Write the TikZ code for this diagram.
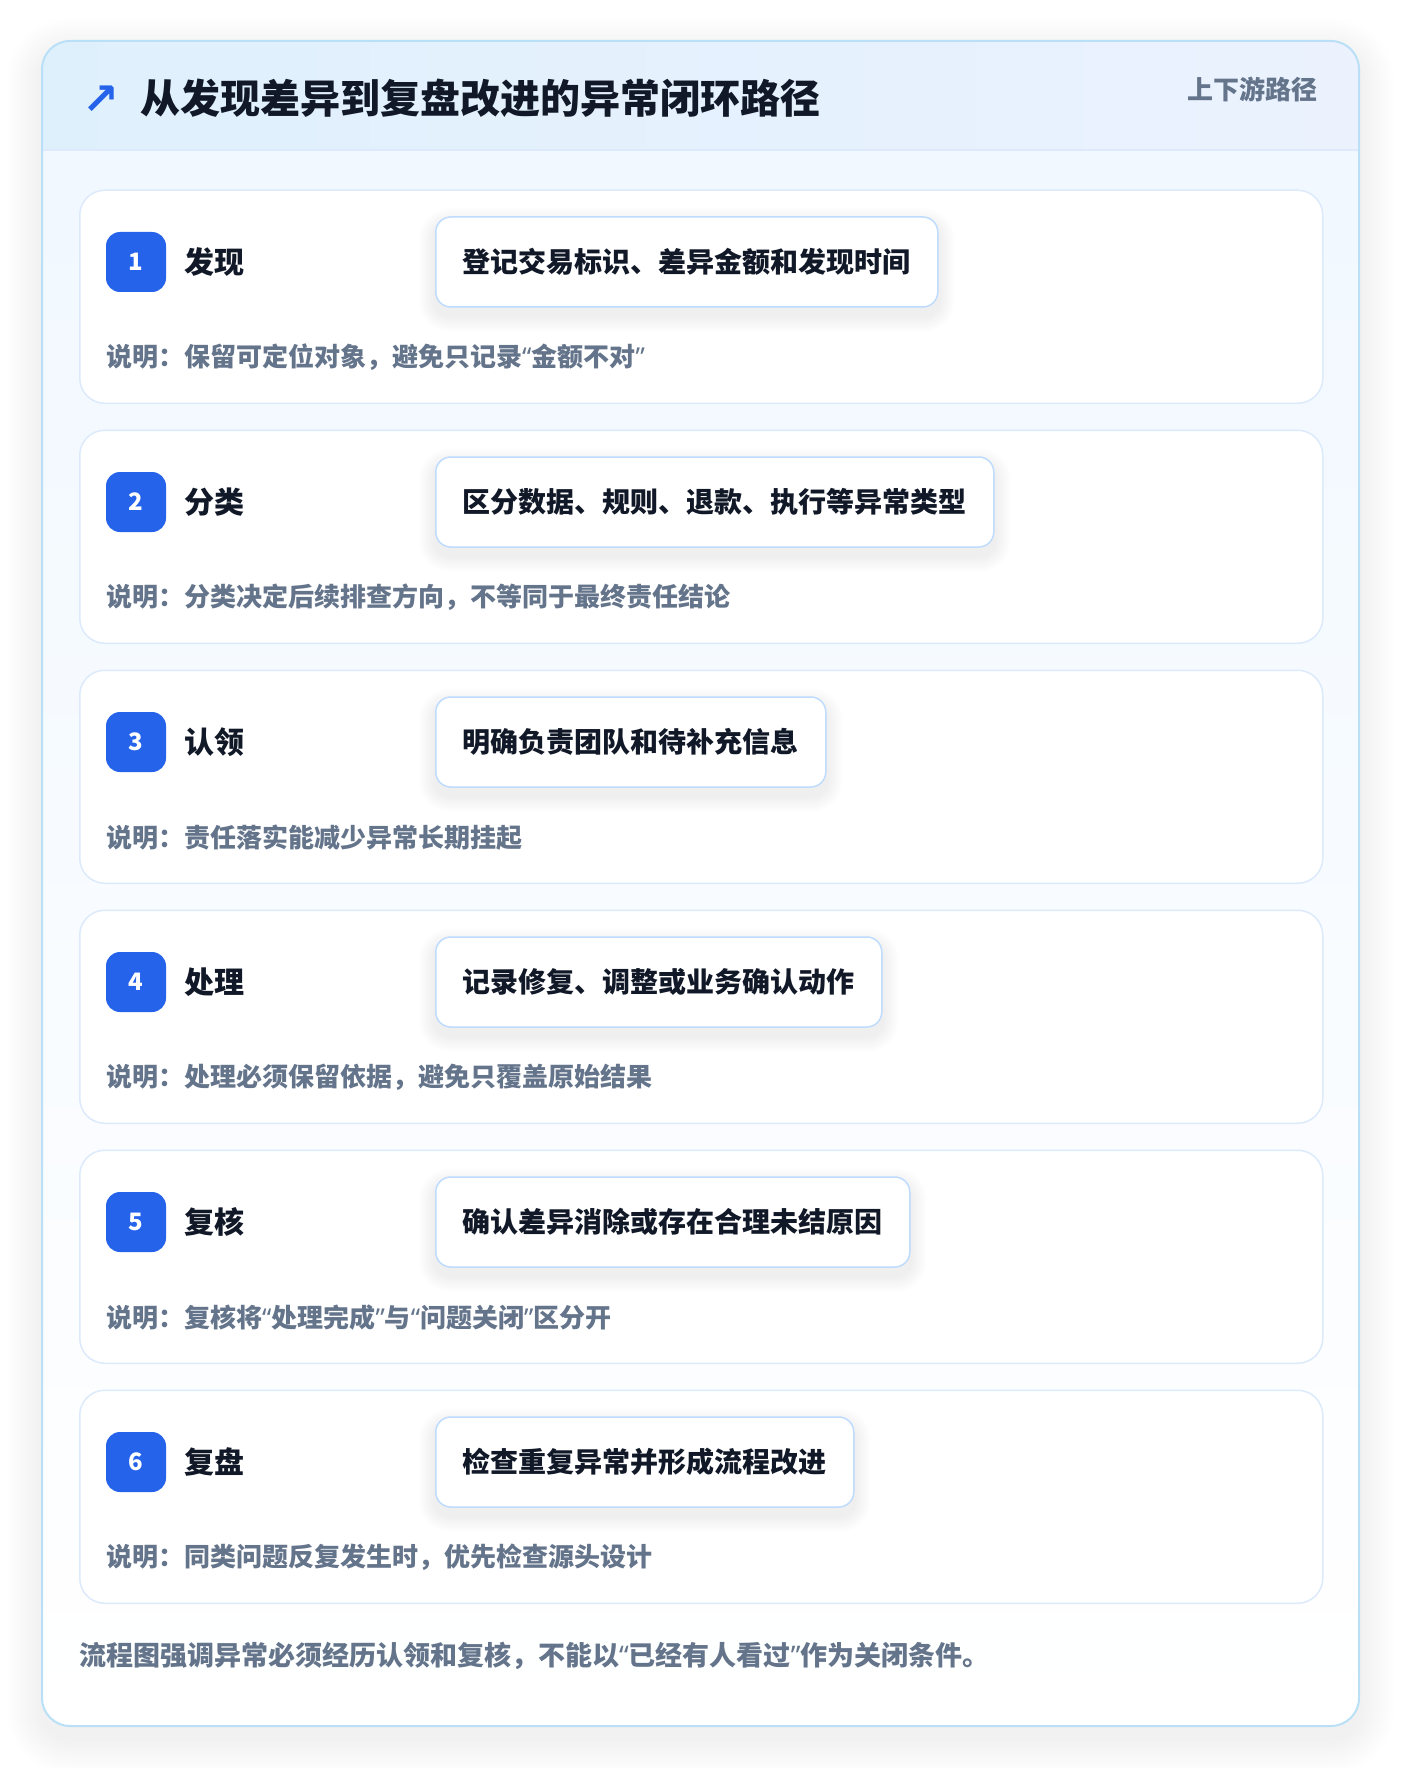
\documentclass[tikz,border=0pt]{standalone}
\usepackage{fontspec}
\setmainfont{Noto Sans CJK SC}
\newfontfamily\symfont{DejaVu Sans}
\newfontfamily\quotefont{Noto Sans}
\usetikzlibrary{positioning}

\newcommand\qo{{\quotefont “}}
\newcommand\qc{{\quotefont ”}}

\definecolor{badgeblue}{HTML}{2563EB}
\definecolor{inkdark}{HTML}{111827}
\definecolor{inkgray}{HTML}{64748B}
\definecolor{cardline}{HTML}{DCEAFB}
\definecolor{boxline}{HTML}{BFDBFE}
\definecolor{frameline}{HTML}{BAE0F7}
\definecolor{headleft}{HTML}{DFF0FD}
\definecolor{headright}{HTML}{EBF2FE}
\definecolor{bodytop}{HTML}{F1F8FF}

\pgfdeclarelayer{background}
\pgfdeclarelayer{boxshadow}
\pgfsetlayers{background,boxshadow,main}

\tikzset{
    stepcard/.style={draw=cardline, line width=1.5pt, fill=white, rounded corners=25pt,
        minimum width=1243pt, minimum height=213pt, anchor=north west, inner sep=0pt},
    badge/.style={fill=badgeblue, rounded corners=14pt, minimum size=60pt, inner sep=0pt,
        text=white, font=\fontsize{24}{28}\selectfont\bfseries},
    steplabel/.style={anchor=west, inner sep=0pt, text=inkdark,
        font=\fontsize{30}{36}\selectfont\bfseries},
    actionbox/.style={draw=boxline, line width=1.5pt, fill=white, rounded corners=15pt,
        minimum height=90pt, inner xsep=27pt, anchor=west, text=inkdark,
        font=\fontsize{28}{34}\selectfont\bfseries},
    notetext/.style={anchor=west, inner sep=0pt, text=inkgray,
        font=\fontsize{26}{32}\selectfont\bfseries},
    softshade/.style={fill=black, opacity=#1},
}

\begin{document}
\begin{tikzpicture}[x=1pt, y=-1pt]

    \useasboundingbox (0,0) rectangle (1400,1768);

    % Outer frame
    \coordinate (frameNW) at (42,41);
    \coordinate (frameSE) at (1359,1726);
    \begin{pgfonlayer}{background}
        \fill[white] (0,0) rectangle (1400,1768);
        \foreach \k in {1,...,14} {
            \pgfmathsetmacro\rr{28+2.5*\k}
            \fill[softshade=0.005, rounded corners=\rr pt]
                ([xshift=-2.5*\k pt, yshift=2.5*\k pt-12pt]frameNW) rectangle ([xshift=2.5*\k pt, yshift=-2.5*\k pt-12pt]frameSE);
        }
        \fill[white, rounded corners=28pt] (frameNW) rectangle (frameSE);
        \begin{scope}
            \clip[rounded corners=28pt] (frameNW) rectangle (frameSE);
            \shade[top color=bodytop, bottom color=white] (42,150) rectangle (frameSE);
            % Header band
            \shade[left color=headleft, right color=headright] (frameNW) rectangle (1359,150);
            \draw[cardline, line width=1.5pt] (42,150) -- (1359,150);
        \end{scope}
        \draw[frameline, line width=2pt, rounded corners=28pt] (frameNW) rectangle (frameSE);
    \end{pgfonlayer}

    % Title
    \node[anchor=west, inner sep=0pt, text=badgeblue, font=\symfont\fontsize{44}{50}\selectfont\bfseries] (icon) at (82,100) {↗};
    \node[anchor=west, inner sep=0pt, text=inkdark, font=\fontsize{40}{48}\selectfont\bfseries] (title) at (140,98)
        {从发现差异到复盘改进的异常闭环路径};
    \node[anchor=east, inner sep=0pt, text=inkgray, font=\fontsize{26}{31}\selectfont\bfseries] (tag) at (1318,89)
        {上下游路径};

    % Steps
    \foreach \n/\name/\act/\note [count=\i from 0] in {
        1/发现/{登记交易标识、差异金额和发现时间}/{说明：保留可定位对象，避免只记录\qo 金额不对\qc},
        2/分类/{区分数据、规则、退款、执行等异常类型}/{说明：分类决定后续排查方向，不等同于最终责任结论},
        3/认领/{明确负责团队和待补充信息}/{说明：责任落实能减少异常长期挂起},
        4/处理/{记录修复、调整或业务确认动作}/{说明：处理必须保留依据，避免只覆盖原始结果},
        5/复核/{确认差异消除或存在合理未结原因}/{说明：复核将\qo 处理完成\qc 与\qo 问题关闭\qc 区分开},
        6/复盘/{检查重复异常并形成流程改进}/{说明：同类问题反复发生时，优先检查源头设计}}
    {
        \pgfmathsetmacro\ytop{189.5+240*\i}
        \begin{pgfonlayer}{background}
            \node[stepcard] (card\n) at (79,\ytop) {};
        \end{pgfonlayer}
        \node[badge] (badge\n) at (136,\ytop+72.5) {\n};
        \node[steplabel, right=18pt of badge\n] (label\n) {\name};
        \node[actionbox] (act\n) at (435,\ytop+72.5) {\act};
        \node[notetext] (note\n) at (106,\ytop+168) {\note};
        % soft shadow under the action box
        \begin{pgfonlayer}{boxshadow}
            \foreach \k in {1,...,8} {
                \pgfmathsetmacro\rr{15+2*\k}
                \fill[softshade=0.009, rounded corners=\rr pt]
                    ([xshift=-2*\k pt, yshift=-2*\k pt-8pt]act\n.south west) rectangle ([xshift=2*\k pt, yshift=2*\k pt-8pt]act\n.north east);
            }
        \end{pgfonlayer}
    }

    % Footer
    \node[anchor=west, inner sep=0pt, text=inkgray, font=\fontsize{27}{33}\selectfont\bfseries] (footer) at (79,1656)
        {流程图强调异常必须经历认领和复核，不能以\qo 已经有人看过\qc 作为关闭条件。};

\end{tikzpicture}
\end{document}
